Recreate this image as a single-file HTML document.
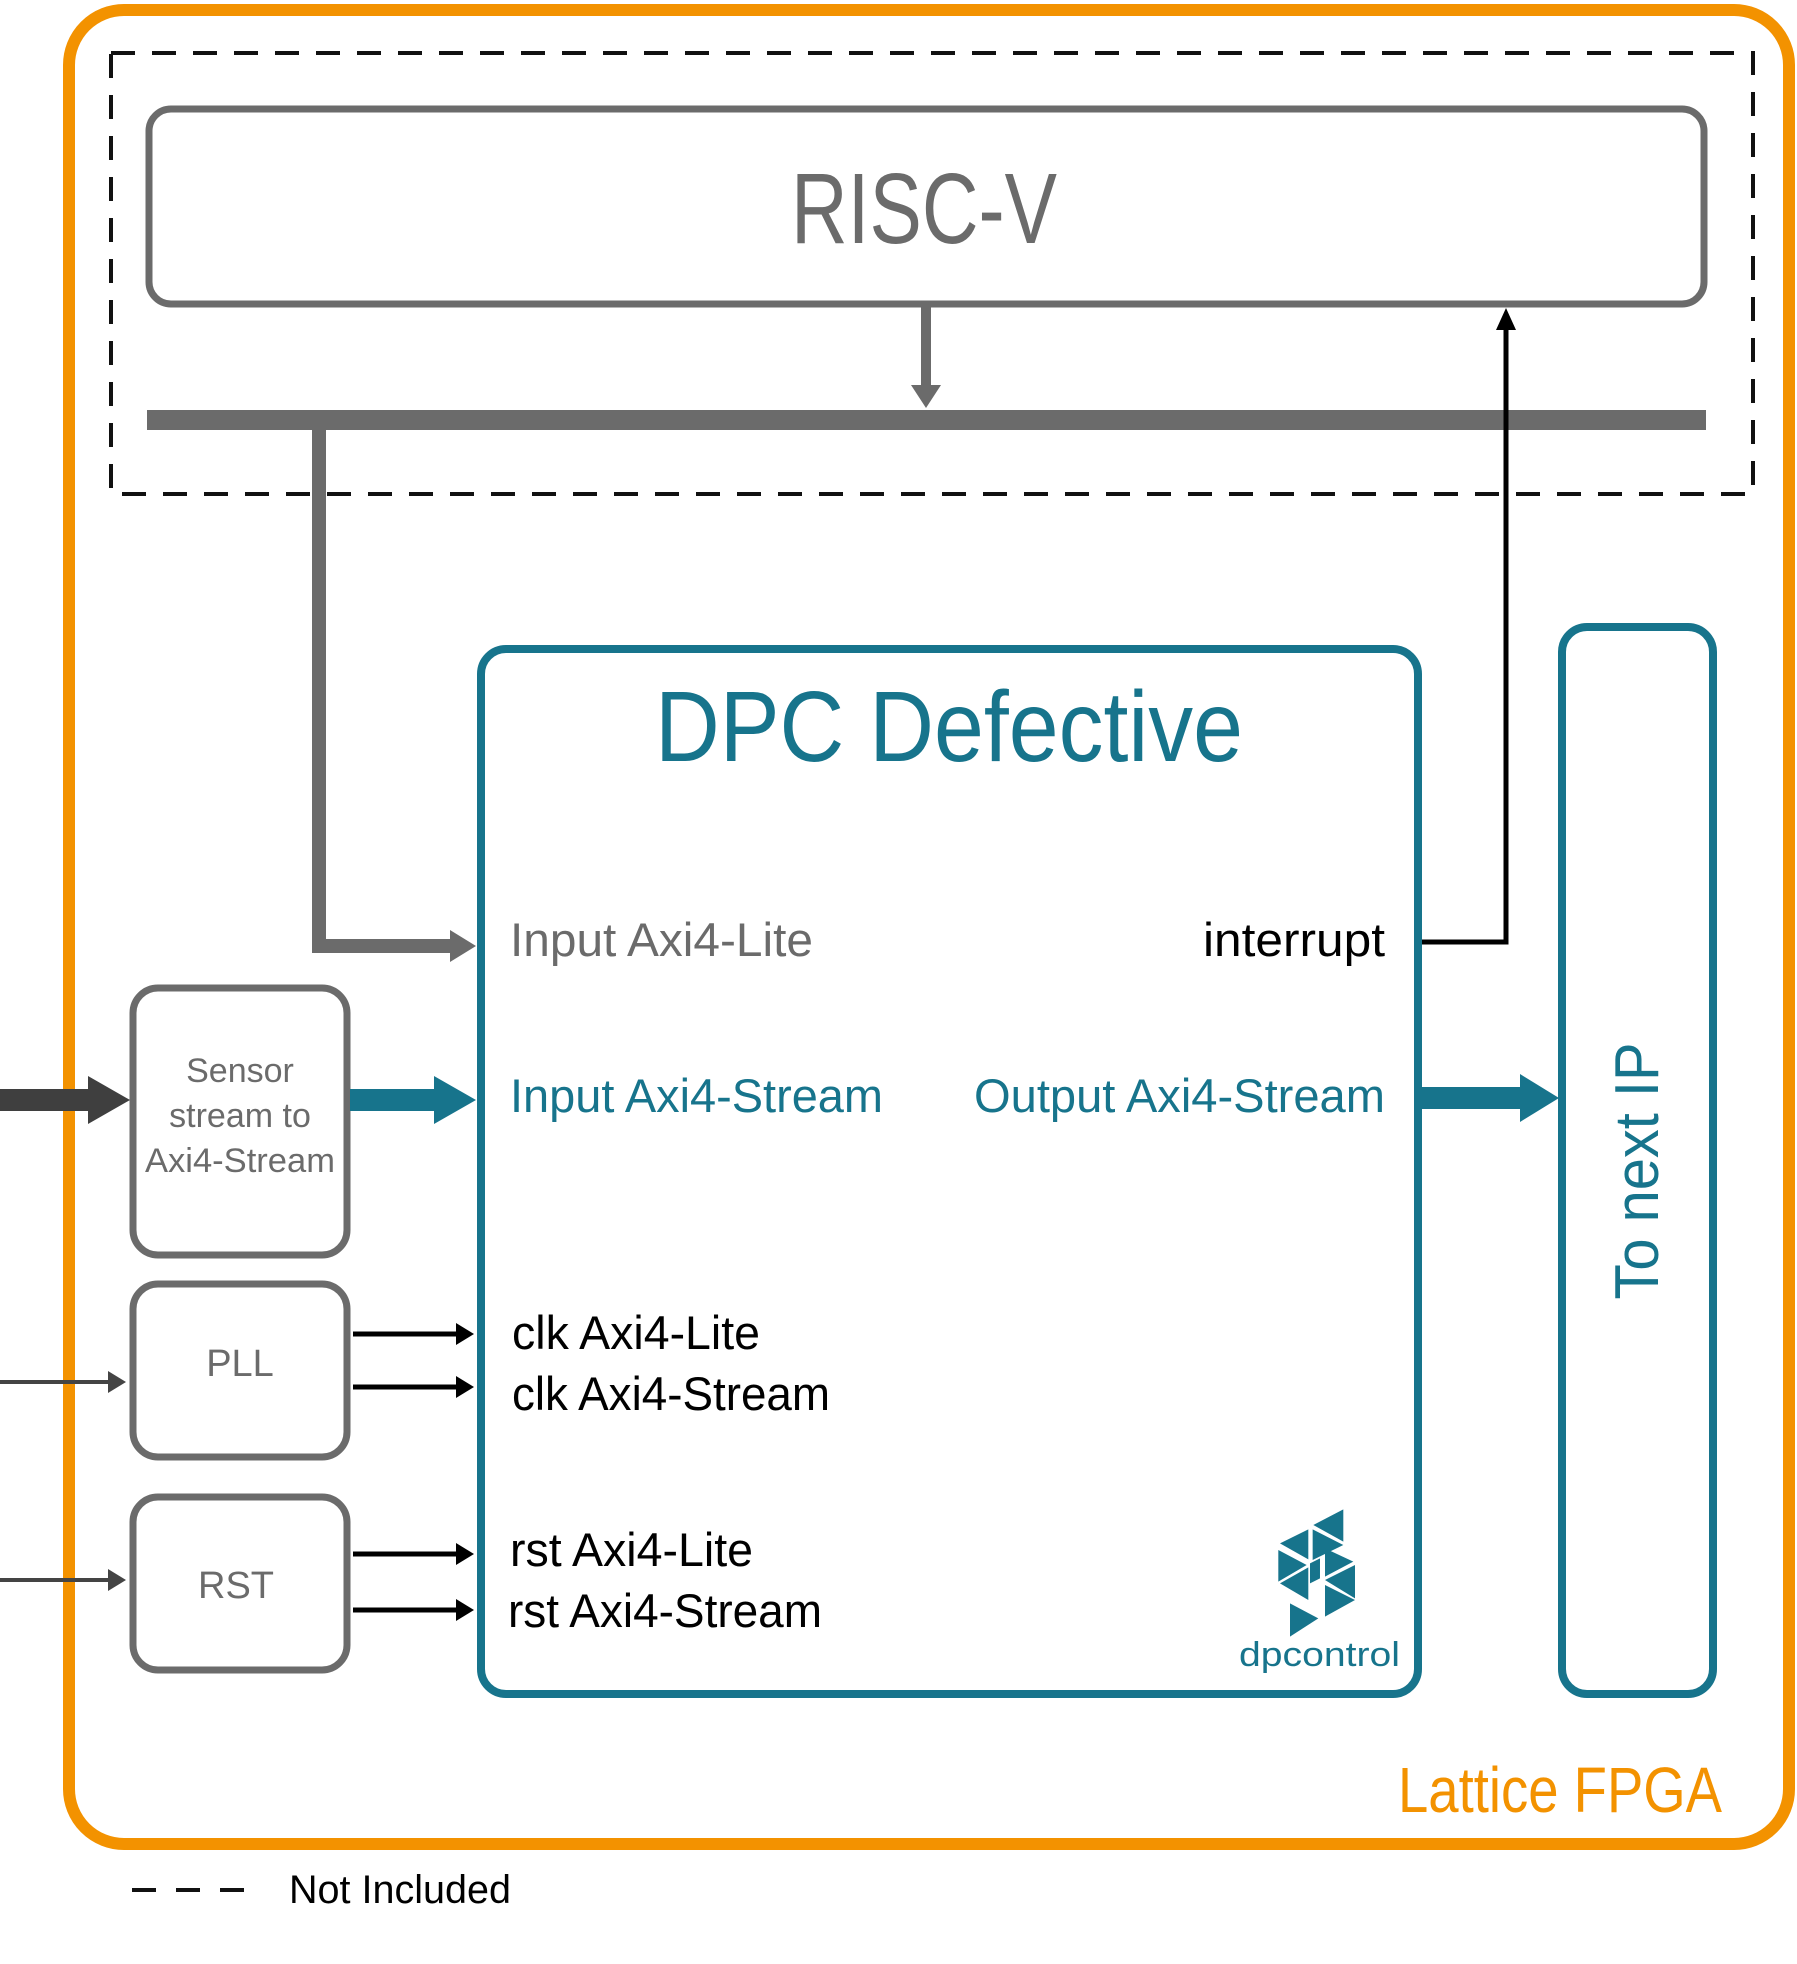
<!DOCTYPE html>
<html><head><meta charset="utf-8"><style>
html,body{margin:0;padding:0;background:#fff;}
svg{display:block;}
text{font-family:"Liberation Sans","DejaVu Sans",sans-serif;}
</style></head><body>
<svg width="1797" height="1964" viewBox="0 0 1797 1964" xmlns="http://www.w3.org/2000/svg">
<rect x="69" y="10" width="1720" height="1834" rx="55" fill="none" stroke="#f39200" stroke-width="12"/>
<rect x="111" y="53" width="1642" height="441" fill="none" stroke="#111" stroke-width="4" stroke-dasharray="24,17"/>
<rect x="149" y="109" width="1555" height="195" rx="22" fill="#fff" stroke="#6b6b6b" stroke-width="7"/>
<text x="924" y="243" font-size="100" fill="#6b6b6b" text-anchor="middle" textLength="266" lengthAdjust="spacingAndGlyphs">RISC-V</text>
<line x1="147" y1="420" x2="1706" y2="420" stroke="#6b6b6b" stroke-width="20"/>
<line x1="926" y1="304" x2="926" y2="390" stroke="#6b6b6b" stroke-width="10"/>
<polygon points="911,385 941,385 926,408" fill="#6b6b6b"/>
<polyline points="319,420 319,946 455,946" fill="none" stroke="#6b6b6b" stroke-width="14"/>
<polygon points="450,930 476,946 450,962" fill="#6b6b6b"/>
<polyline points="1421,942 1506,942 1506,325" fill="none" stroke="#000" stroke-width="5"/>
<polygon points="1496,330 1516,330 1506,308" fill="#000"/>
<rect x="481" y="649" width="937" height="1045" rx="25" fill="none" stroke="#17748c" stroke-width="8"/>
<text x="949" y="761" font-size="100" fill="#17748c" text-anchor="middle" textLength="588" lengthAdjust="spacingAndGlyphs">DPC Defective</text>
<text x="510" y="956" font-size="47" fill="#6b6b6b" textLength="303" lengthAdjust="spacingAndGlyphs">Input Axi4-Lite</text>
<text x="1385" y="956" font-size="47" fill="#000" text-anchor="end" textLength="182" lengthAdjust="spacingAndGlyphs">interrupt</text>
<text x="510" y="1112" font-size="47" fill="#17748c" textLength="373" lengthAdjust="spacingAndGlyphs">Input Axi4-Stream</text>
<text x="1385" y="1112" font-size="47" fill="#17748c" text-anchor="end" textLength="411" lengthAdjust="spacingAndGlyphs">Output Axi4-Stream</text>
<text x="512" y="1349" font-size="47" fill="#000" textLength="248" lengthAdjust="spacingAndGlyphs">clk Axi4-Lite</text>
<text x="512" y="1410" font-size="47" fill="#000" textLength="318" lengthAdjust="spacingAndGlyphs">clk Axi4-Stream</text>
<text x="510" y="1566" font-size="47" fill="#000" textLength="243" lengthAdjust="spacingAndGlyphs">rst Axi4-Lite</text>
<text x="508" y="1627" font-size="47" fill="#000" textLength="314" lengthAdjust="spacingAndGlyphs">rst Axi4-Stream</text>
<g transform="translate(1200,1480) scale(0.3333)" fill="#17748c">
<polygon points="340,135 430,88 430,185"/>
<polygon points="240,190 325,148 325,238"/>
<polygon points="338,148 430,195 338,240"/>
<polygon points="235,210 320,255 235,305"/>
<polygon points="375,205 460,245 375,290"/>
<polygon points="240,310 325,262 325,360"/>
<polygon points="375,300 465,255 465,355"/>
<polygon points="375,315 465,360 375,410"/>
<polygon points="270,370 355,415 270,470"/>
<polygon points="330,250 360,235 360,295 330,310"/>
</g>
<text x="1239" y="1666" font-size="34" fill="#17748c" textLength="161" lengthAdjust="spacingAndGlyphs">dpcontrol</text>
<rect x="1562" y="627" width="151" height="1067" rx="25" fill="none" stroke="#17748c" stroke-width="8"/>
<text transform="translate(1658,1171) rotate(-90)" font-size="62" fill="#17748c" text-anchor="middle" textLength="257" lengthAdjust="spacingAndGlyphs">To next IP</text>
<rect x="133" y="988" width="214" height="267" rx="25" fill="none" stroke="#6b6b6b" stroke-width="7"/>
<text x="240" y="1082" font-size="34" fill="#6b6b6b" text-anchor="middle">Sensor</text>
<text x="240" y="1127" font-size="34" fill="#6b6b6b" text-anchor="middle">stream to</text>
<text x="240" y="1172" font-size="34" fill="#6b6b6b" text-anchor="middle" textLength="190" lengthAdjust="spacingAndGlyphs">Axi4-Stream</text>
<rect x="133" y="1284" width="214" height="173" rx="25" fill="none" stroke="#6b6b6b" stroke-width="7"/>
<text x="240" y="1376" font-size="38" fill="#6b6b6b" text-anchor="middle">PLL</text>
<rect x="133" y="1497" width="214" height="173" rx="25" fill="none" stroke="#6b6b6b" stroke-width="7"/>
<text x="236" y="1598" font-size="38" fill="#6b6b6b" text-anchor="middle">RST</text>
<rect x="0" y="1089" width="90" height="22" fill="#3f3f3f"/>
<polygon points="88,1076 130,1100 88,1124" fill="#3f3f3f"/>
<rect x="350" y="1089" width="86" height="22" fill="#17748c"/>
<polygon points="434,1076 476,1100 434,1124" fill="#17748c"/>
<rect x="1421" y="1087" width="101" height="22" fill="#17748c"/>
<polygon points="1520,1074 1559,1098 1520,1122" fill="#17748c"/>
<g stroke="#000" stroke-width="5">
<line x1="353" y1="1334" x2="460" y2="1334"/>
<line x1="353" y1="1387" x2="460" y2="1387"/>
<line x1="353" y1="1554" x2="460" y2="1554"/>
<line x1="353" y1="1610" x2="460" y2="1610"/>
</g>
<g fill="#000">
<polygon points="456,1323 474,1334 456,1345"/>
<polygon points="456,1376 474,1387 456,1398"/>
<polygon points="456,1543 474,1554 456,1565"/>
<polygon points="456,1599 474,1610 456,1621"/>
</g>
<line x1="0" y1="1382" x2="112" y2="1382" stroke="#444" stroke-width="4"/>
<polygon points="108,1371 126,1382 108,1393" fill="#444"/>
<line x1="0" y1="1580" x2="112" y2="1580" stroke="#444" stroke-width="4"/>
<polygon points="108,1569 126,1580 108,1591" fill="#444"/>
<text x="1722" y="1812" font-size="64" fill="#f39200" text-anchor="end" textLength="324" lengthAdjust="spacingAndGlyphs">Lattice FPGA</text>
<line x1="132" y1="1890" x2="258" y2="1890" stroke="#111" stroke-width="4" stroke-dasharray="24,20"/>
<text x="289" y="1903" font-size="40" fill="#000" textLength="222" lengthAdjust="spacingAndGlyphs">Not Included</text>
</svg>
</body></html>
